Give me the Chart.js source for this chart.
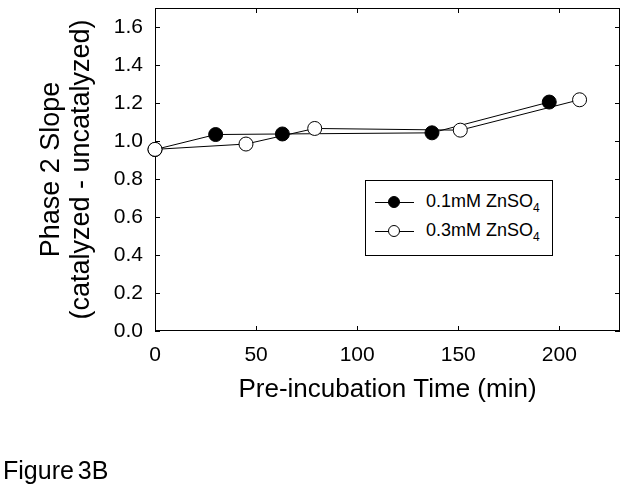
<!DOCTYPE html>
<html>
<head>
<meta charset="utf-8">
<script src="https://cdn.jsdelivr.net/npm/chart.js@4.4.1/dist/chart.umd.min.js"></script>
<style>
  body { margin: 0; background: #fff; }
  #wrap { position: relative; width: 628px; height: 490px; font-family: "Liberation Sans", Arial, sans-serif; color: #000; }
  #legend { position: absolute; left: 365px; top: 180px; width: 186px; height: 74px; border: 1px solid #000; background: #fff; }
  .row { position: absolute; left: 0; height: 30px; display: flex; align-items: center; font-size: 18px; }
  .line { position: absolute; left: 9px; width: 39px; top: 14px; height: 1px; background: #000; }
  .dot { position: absolute; left: 22px; top: 8px; width: 12px; height: 12px; border: 1px solid #000; border-radius: 50%; box-sizing: border-box; }
  .lbl { position: absolute; left: 60px; white-space: nowrap; }
  .lbl sub { font-size: 12px; vertical-align: -5px; }
  #fig { position: absolute; left: 3px; top: 458px; font-size: 25px; line-height: 25px; white-space: nowrap; word-spacing: -3px; }
</style>
</head>
<body>
<div id="wrap">
  <canvas id="chart" width="628" height="490"></canvas>
  <div id="legend">
    <div class="row" style="top:7px;width:186px"><div class="line"></div><div class="dot" style="background:#000"></div><span class="lbl">0.1mM ZnSO<sub>4</sub></span></div>
    <div class="row" style="top:36px;width:186px"><div class="line"></div><div class="dot" style="background:#fff"></div><span class="lbl">0.3mM ZnSO<sub>4</sub></span></div>
  </div>
  <div id="fig">Figure 3B</div>
</div>
<script>
// pre-incubation time (min) and phase 2 slope
const timeLow = [0, 30, 63, 137, 195];
const slopeLow = [0.955, 1.034, 1.037, 1.043, 1.205];
const timeHigh = [0, 45, 79, 151, 210];
const slopeHigh = [0.956, 0.984, 1.066, 1.057, 1.217];

const xTicks = [0, 50, 100, 150, 200];
const yTicks = [0, 0.2, 0.4, 0.6, 0.8, 1.0, 1.2, 1.4, 1.6];

const toPoints = (xs, ys) => xs.map((x, i) => ({ x: x, y: ys[i] }));

// box round the plot with short ticks pointing inward on all four sides
const framePlugin = {
  id: 'frame',
  beforeDatasetsDraw(chart) {
    const ctx = chart.ctx;
    const a = chart.chartArea;
    const xs = chart.scales.x, ys = chart.scales.y;
    const len = 5;
    ctx.save();
    ctx.strokeStyle = '#000';
    ctx.lineWidth = 1;
    ctx.strokeRect(a.left + 0.5, a.top + 0.5, a.right - a.left - 1, a.bottom - a.top - 1);
    ctx.beginPath();
    xTicks.forEach(v => {
      const px = Math.round(xs.getPixelForValue(v)) + 0.5;
      ctx.moveTo(px, a.bottom); ctx.lineTo(px, a.bottom - len);
      ctx.moveTo(px, a.top); ctx.lineTo(px, a.top + len);
    });
    yTicks.forEach(v => {
      const py = Math.round(ys.getPixelForValue(v)) + 0.5;
      ctx.moveTo(a.left, py); ctx.lineTo(a.left + len, py);
      ctx.moveTo(a.right, py); ctx.lineTo(a.right - len, py);
    });
    ctx.stroke();
    ctx.restore();
  }
};

const tickFont = { family: '"Liberation Sans", Arial, sans-serif', size: 21 };

new Chart(document.getElementById('chart').getContext('2d'), {
  type: 'scatter',
  data: {
    datasets: [
      {
        label: '0.3mM ZnSO4',
        data: toPoints(timeHigh, slopeHigh),
        showLine: true,
        borderColor: '#000',
        borderWidth: 1,
        pointRadius: 7,
        pointBackgroundColor: '#fff',
        pointBorderColor: '#000',
        pointBorderWidth: 1,
        clip: false,
        order: 0
      },
      {
        label: '0.1mM ZnSO4',
        data: toPoints(timeLow, slopeLow),
        showLine: true,
        borderColor: '#000',
        borderWidth: 1,
        pointRadius: 7,
        pointBackgroundColor: '#000',
        pointBorderColor: '#000',
        pointBorderWidth: 1,
        clip: false,
        order: 1
      }
    ]
  },
  options: {
    responsive: false,
    animation: false,
    layout: { padding: { top: 5, right: 7, left: 0, bottom: 0 } },
    plugins: {
      legend: { display: false },
      tooltip: { enabled: false }
    },
    scales: {
      x: {
        type: 'linear',
        min: 0,
        max: 230,
        afterFit: s => { s.height = 159; s.paddingLeft = 0; s.paddingRight = 0; },
        grid: { display: false, drawTicks: false },
        border: { display: false },
        ticks: {
          stepSize: 50,
          includeBounds: false,
          padding: 12,
          color: '#000',
          font: tickFont,
          maxRotation: 0
        },
        title: {
          display: true,
          text: 'Pre-incubation Time (min)',
          color: '#000',
          font: { family: '"Liberation Sans", Arial, sans-serif', size: 26 },
          padding: { top: 0, bottom: 85 }
        }
      },
      y: {
        min: 0,
        max: 1.7,
        afterFit: s => { s.width = 155; s.paddingTop = 0; s.paddingBottom = 0; },
        grid: { display: false, drawTicks: false },
        border: { display: false },
        ticks: {
          stepSize: 0.2,
          includeBounds: false,
          padding: 12,
          color: '#000',
          font: tickFont,
          callback: v => v.toFixed(1)
        },
        title: {
          display: true,
          text: ['Phase 2 Slope', '(catalyzed - uncatalyzed)'],
          color: '#000',
          font: { family: '"Liberation Sans", Arial, sans-serif', size: 27, lineHeight: 1.11 },
          padding: { top: 37, bottom: 0 }
        }
      }
    }
  },
  plugins: [framePlugin]
});
</script>
</body>
</html>
